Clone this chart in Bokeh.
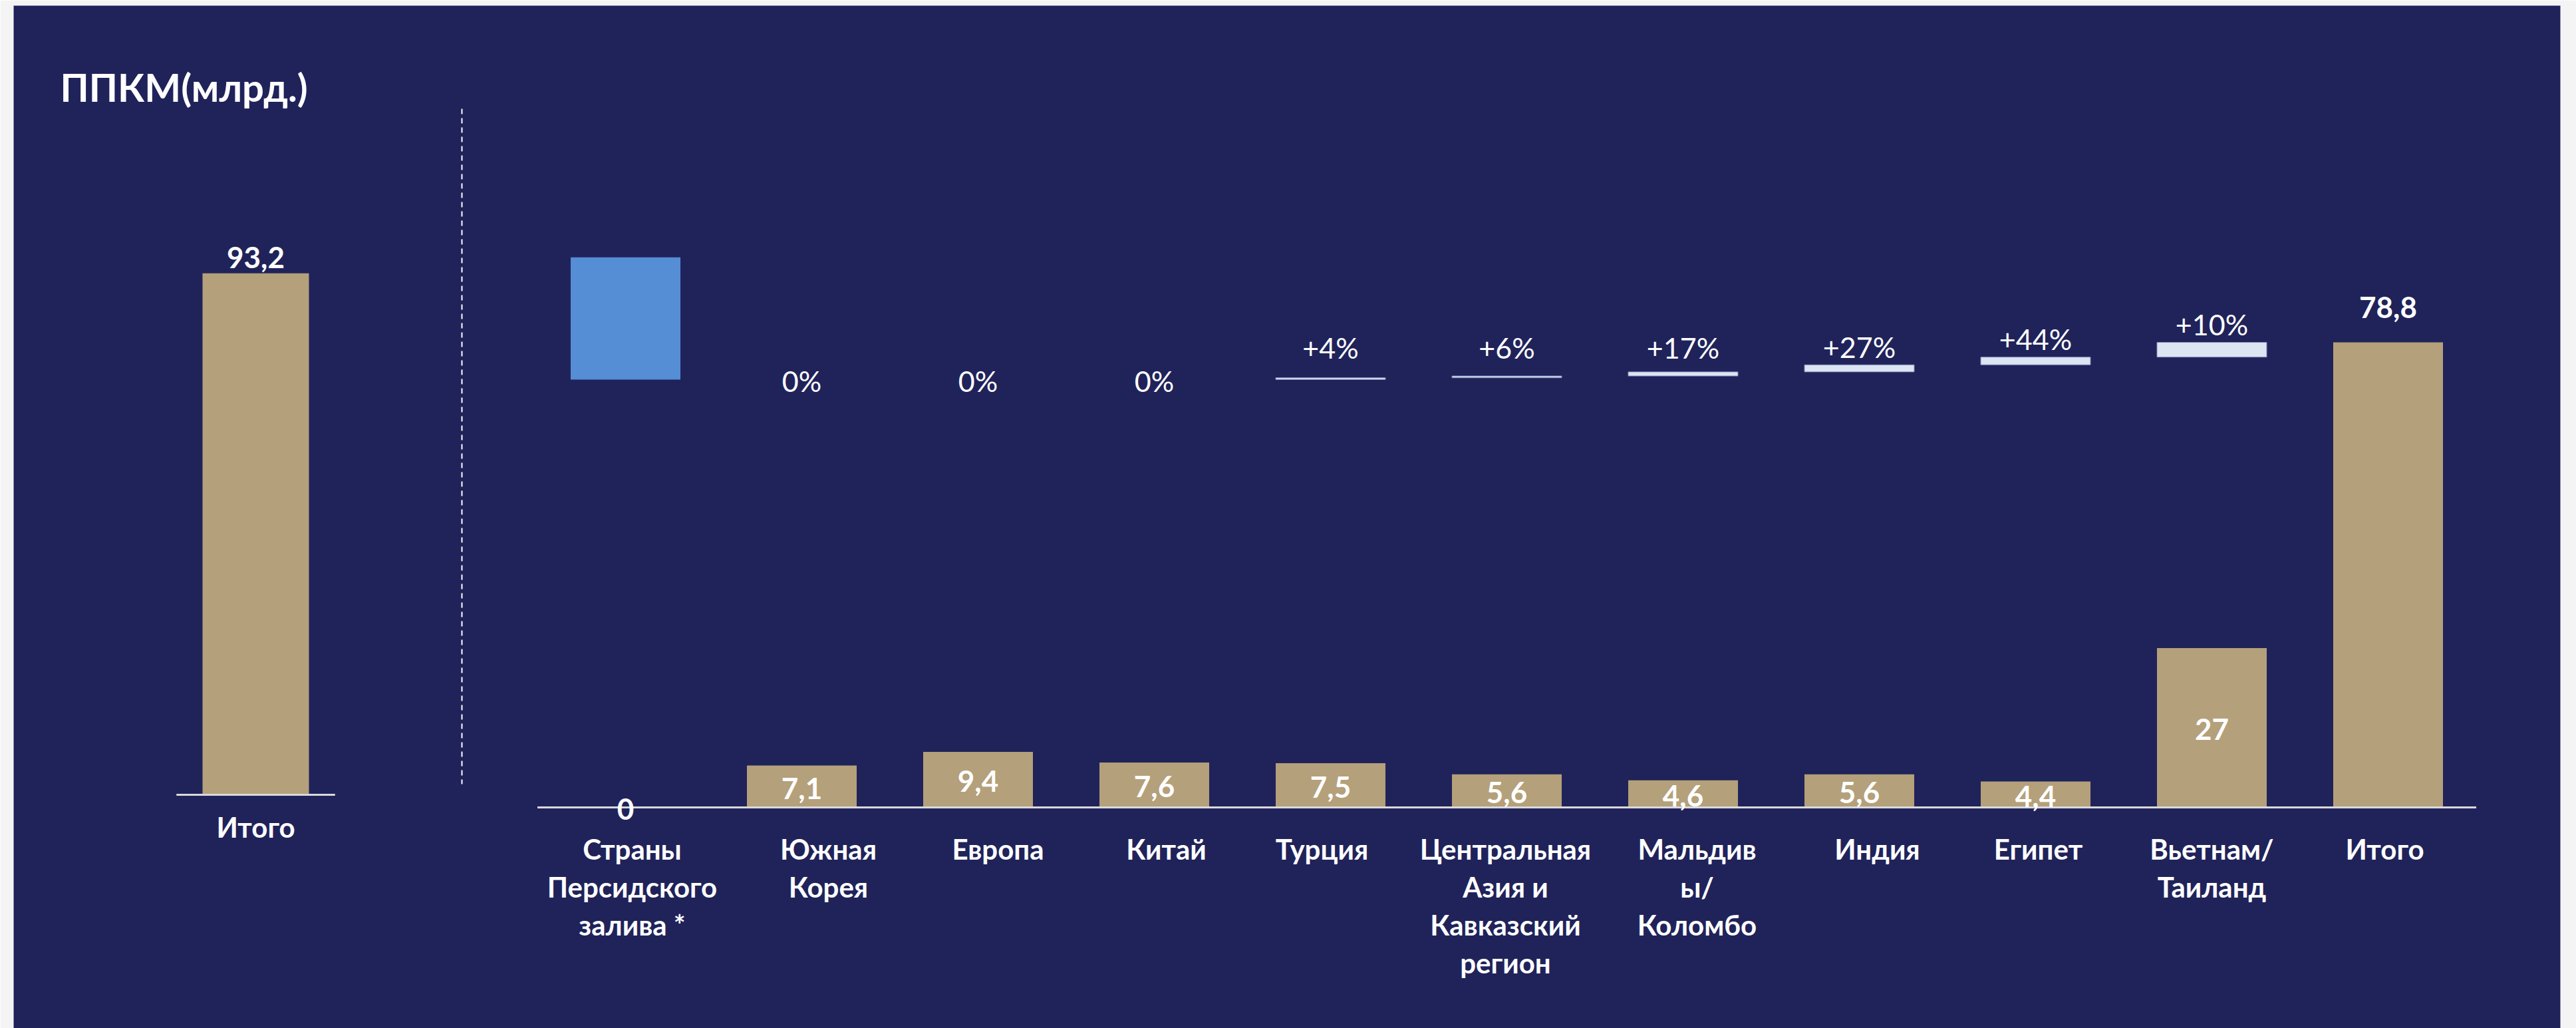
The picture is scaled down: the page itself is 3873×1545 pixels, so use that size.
import numpy as np
from bokeh.plotting import figure
from bokeh.models import Range1d
from bokeh.core.properties import value
from bokeh.embed import file_html
from bokeh.resources import INLINE

# ---------------- data ----------------
title_text = "ППКМ(млрд.)"
left_categories = ["Итого"]
left_values = [93.2]

categories = ["Страны\nПерсидского\nзалива *", "Южная\nКорея", "Европа", "Китай", "Турция",
              "Центральная\nАзия и\nКавказский\nрегион", "Мальдив\nы/\nКоломбо", "Индия",
              "Египет", "Вьетнам/\nТаиланд", "Итого"]
values = [0, 7.1, 9.4, 7.6, 7.5, 5.6, 4.6, 5.6, 4.4, 27, 78.8]
gulf_drop = 20.7                                       # blue step from the 93.2 total
increments = [0, 0, 0, 0.3, 0.3, 0.7, 1.2, 1.3, 2.5]   # steps for categories 2..10
pct_labels = ["0%", "0%", "0%", "+4%", "+6%", "+17%", "+27%", "+44%", "+10%"]

# ---------------- style / layout ----------------
NAVY = "#20235a"
EDGE = "#f4f4f4"
TAN = "#b4a07a"
BLUE = "#558ed5"
PALE = "#dce6f2"
PALE_EDGE = "#7d8bbd"
AXIS = "#d9d9d9"
WHITE = "#ffffff"
FONT = value("Lato")

W, H = 3873, 1545
BL, BT, BR = 20, 8, 24              # light page strips around the navy panel
FW, FH = W - BL - BR, H - BT        # frame size
PX_CAT = 265.0                      # px per category
FIRST_CENTER = 940                  # page x of first waterfall category
LEFT_CENTER = 384                   # page x of the left total bar
R_BASE_PAGE, R_PPU = 1213, 8.87     # waterfall baseline / px per unit
L_BASE_PAGE, L_PPU = 1194, 8.41     # left panel baseline / px per unit

VAL_SIZE = 44
CAT_SIZE = 42
PCT_SIZE = 43
TITLE_SIZE = 58
CAP = 0.7165      # Lato cap-height ratio
FIX = 0.30        # baseline correction (em) for svg text placement


def fmt(v):
    return str(int(v)) if float(v).is_integer() else f"{v:.1f}".replace(".", ",")


xr = Range1d(-(FIRST_CENTER - BL) / PX_CAT, (FW - (FIRST_CENTER - BL)) / PX_CAT)
yr = Range1d(-(H - R_BASE_PAGE) / R_PPU, (R_BASE_PAGE - BT) / R_PPU)
lyr = Range1d(-(H - L_BASE_PAGE) / L_PPU, (L_BASE_PAGE - BT) / L_PPU)

p = figure(width=W, height=H, x_range=xr, y_range=yr, output_backend="svg",
           toolbar_location=None, x_axis_location=None, y_axis_location=None,
           min_border=0, min_border_left=BL, min_border_right=BR,
           min_border_top=BT, min_border_bottom=0)
p.extra_y_ranges = {"left": lyr}
p.grid.visible = False
p.background_fill_color = NAVY
p.border_fill_color = EDGE
p.outline_line_color = None


def xd(page_x):
    return xr.start + (page_x - BL) / PX_CAT


def yd(page_y):
    return yr.end - (page_y - BT) / R_PPU


def txt(size, ppu):
    return FIX * size / ppu


# ================= left panel =================
lx = np.arange(len(left_values)) + xd(LEFT_CENTER)
lv = np.array(left_values, dtype=float)
p.vbar(x=lx, top=lv, bottom=0, width=160 / PX_CAT, fill_color=TAN, line_color=None,
       y_range_name="left")
p.segment(x0=lx - 0.45, x1=lx + 0.45, y0=0, y1=0, line_color=AXIS, line_width=3,
          y_range_name="left")
p.text(x=lx, y=lv + 10 / L_PPU + txt(VAL_SIZE, L_PPU), text=[fmt(v) for v in left_values],
       text_font=FONT, text_font_style="bold", text_font_size=f"{VAL_SIZE}px",
       text_color=WHITE, text_align="center", text_baseline="alphabetic", y_range_name="left")
p.text(x=lx, y=[-61 / L_PPU + txt(CAT_SIZE, L_PPU)] * len(lx), text=left_categories,
       text_font=FONT, text_font_style="bold", text_font_size=f"{CAT_SIZE}px",
       text_color=WHITE, text_align="center", text_baseline="alphabetic", y_range_name="left")

# title
p.text(x=[xd(90)], y=[yd(147) + txt(TITLE_SIZE, R_PPU)], text=[title_text],
       text_font=FONT, text_font_style="bold", text_font_size=f"{TITLE_SIZE}px",
       text_color=WHITE, text_align="left", text_baseline="alphabetic")

# dashed divider
p.segment(x0=[xd(694)], x1=[xd(694)], y0=[yd(163)], y1=[yd(1178)],
          line_color=WHITE, line_width=2, line_dash="8 6")

# ================= waterfall =================
x = np.arange(len(categories))
vals = np.array(values, dtype=float)

p.vbar(x=x, top=vals, bottom=0, width=165 / PX_CAT, fill_color=TAN, line_color=None)

start = left_values[0]
level0 = start - gulf_drop
p.vbar(x=[x[0]], top=[start], bottom=[level0], width=165 / PX_CAT,
       fill_color=BLUE, line_color=None)

inc = np.array(increments, dtype=float)
tops = level0 + np.cumsum(inc)
bottoms = tops - inc
xi = x[1:1 + len(inc)]
nz = inc > 0
p.vbar(x=xi[nz], top=tops[nz], bottom=bottoms[nz], width=165 / PX_CAT,
       fill_color=PALE, line_color=PALE_EDGE, line_width=1)

# percent labels
pct_floor = yd(549)
pct_y = np.where(nz, np.maximum(tops, pct_floor) + 14 / R_PPU,
                 tops - (CAP * PCT_SIZE / 2) / R_PPU) + txt(PCT_SIZE, R_PPU)
p.text(x=xi, y=pct_y, text=pct_labels, text_font=FONT, text_font_style="normal",
       text_font_size=f"{PCT_SIZE}px", text_color=WHITE, text_align="center",
       text_baseline="alphabetic")

# baseline
p.segment(x0=[x[0] - 0.5], x1=[x[-1] + 0.5], y0=[0], y1=[0], line_color=AXIS, line_width=3)

# value labels (inside the bars, total above)
val_y = vals / 2 - (CAP * VAL_SIZE / 2) / R_PPU
val_y[-1] = vals[-1] + 39 / R_PPU
val_y = val_y + txt(VAL_SIZE, R_PPU)
p.text(x=x, y=val_y, text=[fmt(v) for v in values], text_font=FONT, text_font_style="bold",
       text_font_size=f"{VAL_SIZE}px", text_color=WHITE, text_align="center",
       text_baseline="alphabetic")

# category labels (multi-line)
label_dx = [10, 40, 30, 18, -13, -2, 21, 27, 4, 0, -5]
cx, cy, ct = [], [], []
for i, lab in enumerate(categories):
    for j, line in enumerate(lab.split("\n")):
        cx.append(x[i] + label_dx[i] / PX_CAT)
        cy.append(-(75 + 57 * j) / R_PPU + txt(CAT_SIZE, R_PPU))
        ct.append(line)
p.text(x=cx, y=cy, text=ct, text_font=FONT, text_font_style="bold",
       text_font_size=f"{CAT_SIZE}px", text_color=WHITE, text_align="center",
       text_baseline="alphabetic")

open("out.html", "w").write(file_html(p, INLINE))
